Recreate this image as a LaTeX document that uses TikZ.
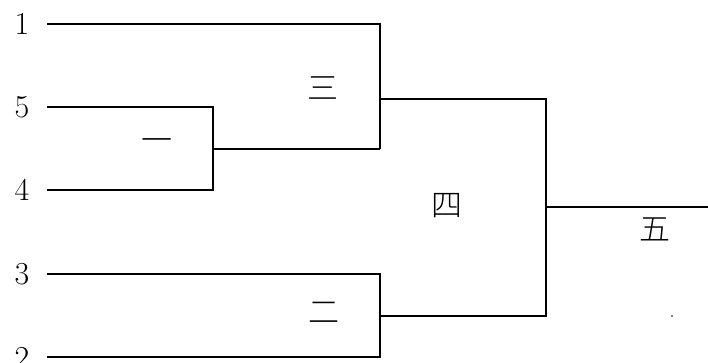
\documentclass[tikz,border=0pt]{standalone}
\usepackage{fontspec}
\newfontfamily\cjk{Noto Sans CJK SC Light}
\tikzset{
  br/.style={line width=2.2pt, line join=miter, line cap=butt},
  num/.style={inner sep=0pt, font=\fontsize{32}{32}\selectfont},
  han/.style={inner sep=0pt, font=\cjk\fontsize{31}{31}\selectfont}
}
\begin{document}
\begin{tikzpicture}[x=1pt,y=-1pt]
\useasboundingbox (0,0) rectangle (708,363);
% labels
\node[num] (n1) at (22,24) {1};
\node[num] (n5) at (22,107) {5};
\node[num] (n4) at (22,190) {4};
\node[num] (n3) at (22,274) {3};
\node[num] (n2) at (22,358) {2};
% line starts
\coordinate (s1) at (47,24);
\coordinate (s5) at (47,107);
\coordinate (s4) at (47,190);
\coordinate (s3) at (47,274);
\coordinate (s2) at (47,357);
% junctions
\coordinate (a1) at (213,107);
\coordinate (a2) at (213,190);
\coordinate (am) at (213,149);
\coordinate (b1) at (380,24);
\coordinate (b2) at (380,149);
\coordinate (bm) at (380,99);
\coordinate (c1) at (380,274);
\coordinate (c2) at (380,357);
\coordinate (cm) at (380,316);
\coordinate (d1) at (546,99);
\coordinate (d2) at (546,316);
\coordinate (dm) at (546,207);
\coordinate (e) at (708,207);
% brackets
\draw[br] (s5) -- (a1) -- (a2) -- (s4);
\draw[br] (am) -- (b2);
\draw[br] (s1) -- (b1) -- (b2);
\draw[br] (s3) -- (c1) -- (c2) -- (s2);
\draw[br] (bm) -- (d1) -- (d2) -- (cm);
\draw[br] (dm) -- (e);
% round labels
\node[han] (r1) at (157,145) {一};
\node[han] (r3) at (323,88) {三};
\node[han] (r2) at (324,313) {二};
\node[han] (r4) at (447,206) {四};
\node[han] (r5) at (655,229) {五};
\fill (672,316) circle (0.8pt);
\end{tikzpicture}
\end{document}
